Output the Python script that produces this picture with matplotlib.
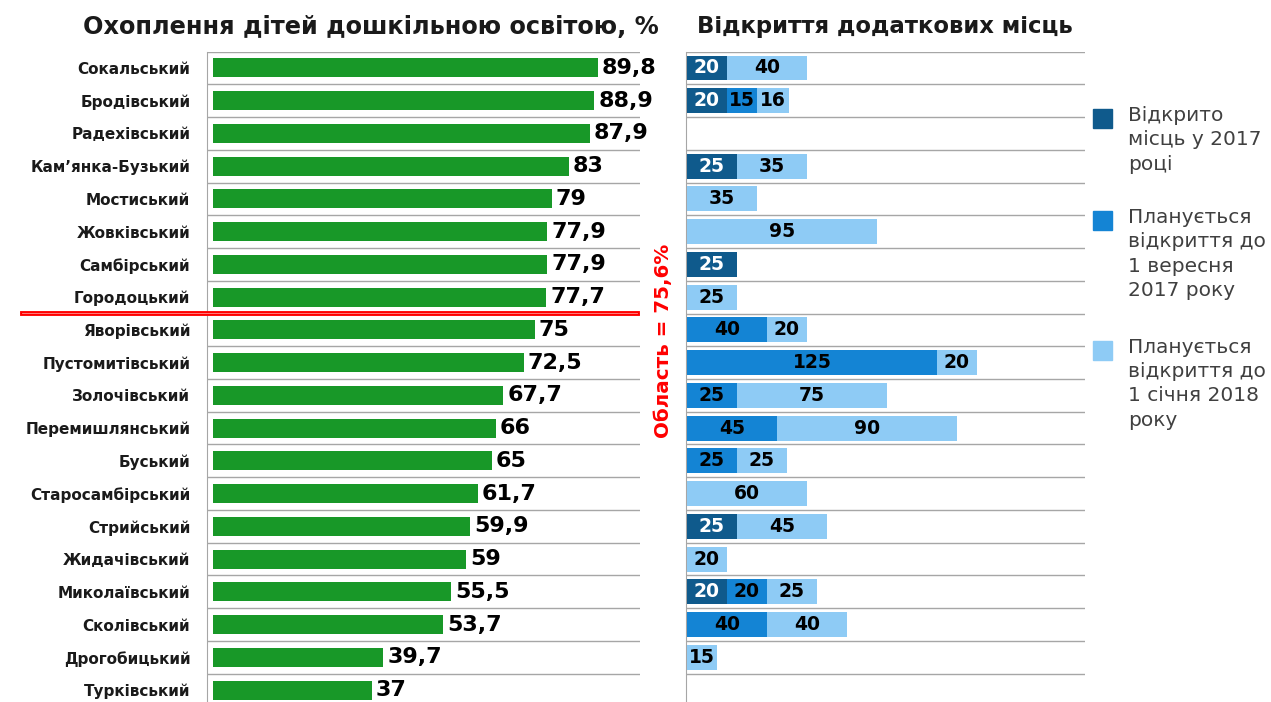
import numpy as np
import matplotlib
matplotlib.use('Agg')
from matplotlib import pyplot as plt
from matplotlib.lines import Line2D

plt.rcParams['font.family'] = ['DejaVu Sans']

districts = ['Сокальський', 'Бродівський', 'Радехівський', 'Кам\u2019янка-Бузький',
	'Мостиський', 'Жовківський', 'Самбірський', 'Городоцький', 'Яворівський',
	'Пустомитівський', 'Золочівський', 'Перемишлянський', 'Буський',
	'Старосамбірський', 'Стрийський', 'Жидачівський', 'Миколаївський',
	'Сколівський', 'Дрогобицький', 'Турківський']
coverage = [89.8, 88.9, 87.9, 83, 79, 77.9, 77.9, 77.7, 75, 72.5, 67.7, 66, 65,
	61.7, 59.9, 59, 55.5, 53.7, 39.7, 37]

opened_2017 = [20, 20, 0, 25, 0, 0, 25, 0, 0, 0, 0, 0, 0, 0, 25, 0, 20, 0, 0, 0]
plan_sep_2017 = [0, 15, 0, 0, 0, 0, 0, 0, 40, 125, 25, 45, 25, 0, 0, 0, 20, 40, 0, 0]
plan_jan_2018 = [40, 16, 0, 35, 35, 95, 0, 25, 20, 20, 75, 90, 25, 60, 45, 20, 25, 40, 15, 0]

region_avg = '75,6'
legend_labels = ['Відкрито\nмісць у 2017\nроці',
	'Планується\nвідкриття до\n1 вересня\n2017 року',
	'Планується\nвідкриття до\n1 січня 2018\nроку']

green = '#189828'
blues = ['#0F5A8C', '#1484D4', '#8ECBF5']
grid_c = '#A6A6A6'

W, H = 1271, 702
fig = plt.figure(figsize=(W / 100, H / 100), dpi=100)

top_px = 51.6
row_px = 32.74
n = len(districts)
ybot = -0.5 + (H - top_px) / row_px
ax_h = (H - top_px) / H

def fmt(v):
	s = ('%g' % v).replace('.', ',')
	return s

y = np.arange(n)

# left panel
sc = 4.29
ax1 = fig.add_axes([207 / W, 0, 433 / W, ax_h])
ax1.barh(y, coverage, height=0.58, color=green, zorder=3)
ax1.set_xlim(-6 / sc, (640 - 213) / sc)
ax1.set_ylim(ybot, -0.5)
for b in np.arange(-0.5, n - 1):
	ax1.axhline(b, color=grid_c, lw=1, zorder=1)
for i, v in enumerate(coverage):
	ax1.text(v + 0.9, i, fmt(v), va='center', ha='left', fontsize=16,
		fontweight='bold', color='black')
ax1.set_yticks(y)
ax1.set_yticklabels(districts, fontsize=11, fontweight='bold', color='#1a1a1a')
ax1.tick_params(axis='y', length=0, pad=12)
ax1.set_xticks([])
for s in ['top', 'right', 'bottom']:
	ax1.spines[s].set_visible(False)
ax1.spines['left'].set_color(grid_c)

# right panel
ax2 = fig.add_axes([686 / W, 0, 399 / W, ax_h])
left = np.zeros(n)
series = [opened_2017, plan_sep_2017, plan_jan_2018]
for k, vals in enumerate(series):
	vals = np.array(vals)
	ax2.barh(y, vals, left=left, height=0.76, color=blues[k], zorder=3)
	for i, v in enumerate(vals):
		if v > 0:
			ax2.text(left[i] + v / 2, i, str(v), ha='center', va='center',
				fontsize=13.5, fontweight='bold',
				color='white' if k == 0 else 'black', zorder=4)
	left += vals
ax2.set_xlim(-0.5, 399 / 2.0 - 0.5)
ax2.set_ylim(ybot, -0.5)
for b in np.arange(-0.5, n - 1):
	ax2.axhline(b, color=grid_c, lw=1, zorder=1)
ax2.set_xticks([])
ax2.set_yticks([])
for s in ['top', 'right', 'bottom']:
	ax2.spines[s].set_visible(False)
ax2.spines['left'].set_color(grid_c)

# titles
fig.text(371 / W, 1 - 27 / H, 'Охоплення дітей дошкільною освітою, %',
	ha='center', va='center', fontsize=17.3, fontweight='bold', color='#1a1a1a')
fig.text(885 / W, 1 - 27 / H, 'Відкриття додаткових місць',
	ha='center', va='center', fontsize=16.4, fontweight='bold', color='#1a1a1a')

# region average line
ly = 1 - 313 / H
fig.add_artist(Line2D([22 / W, 637 / W], [ly, ly], color='#FF0000', lw=3.5))
fig.add_artist(Line2D([22 / W, 637 / W], [ly, ly], color='#FF9090', lw=0.6))
fig.text(663 / W, 1 - 341 / H, 'Область = ' + region_avg + '%', rotation=90,
	ha='center', va='center', fontsize=14.3, fontweight='bold', color='#FF0000')

# legend
leg_y = [118, 220, 350]
for k, lab in enumerate(legend_labels):
	fig.patches.append(plt.Rectangle((1093 / W, 1 - (leg_y[k] + 10) / H),
		19 / W, 19 / H, transform=fig.transFigure, color=blues[k]))
	fig.text(1128 / W, 1 - (leg_y[k] - 12) / H, lab, ha='left', va='top',
		fontsize=14.5, color='#404040', linespacing=1.35)

fig.savefig('out.png', dpi=100)
